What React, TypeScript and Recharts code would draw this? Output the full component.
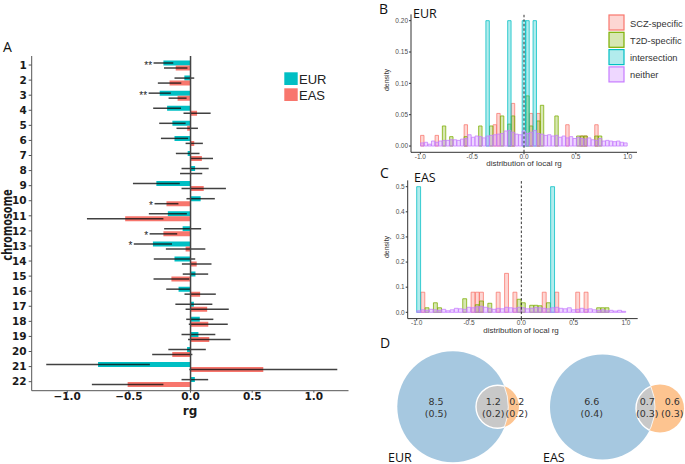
import {
  Bar,
  BarChart,
  ErrorBar,
  LabelList,
  ReferenceLine,
  Scatter,
  ScatterChart,
  XAxis,
  YAxis,
} from "recharts";

// ---- panel A: local rg per chromosome ----
const chromosomes = ["1", "2", "3", "4", "5", "6", "7", "8", "9", "10", "11", "12", "13", "14", "15", "16", "17", "18", "19", "20", "21", "22"];
const eurRg = [-0.22, -0.05, -0.25, -0.19, -0.147, -0.13, -0.023, 0.037, -0.277, 0.082, -0.184, -0.064, -0.305, -0.13, 0.04, -0.097, 0.027, 0.075, 0.064, -0.028, -0.75, 0.035];
const eurSe = [0.08, 0.08, 0.09, 0.113, 0.107, 0.11, 0.096, 0.11, 0.19, 0.115, 0.154, 0.15, 0.155, 0.168, 0.103, 0.1, 0.15, 0.11, 0.137, 0.152, 0.42, 0.108];
const easRg = [-0.12, -0.17, -0.105, 0.053, -0.027, 0.03, 0.092, 0.005, 0.107, -0.195, -0.53, -0.22, -0.04, 0.05, -0.155, 0.078, 0.135, 0.144, 0.152, -0.148, 0.59, -0.51];
const easSe = [0.095, 0.095, 0.073, 0.11, 0.087, 0.07, 0.09, 0.09, 0.18, 0.097, 0.31, 0.112, 0.16, 0.12, 0.145, 0.127, 0.175, 0.158, 0.172, 0.163, 0.6, 0.29];
const eurStars = ["**", "", "**", "", "", "", "", "", "", "", "", "", "*", "", "", "", "", "", "", "", "", ""];
const easStars = ["", "", "", "", "", "", "", "", "", "*", "", "*", "", "", "", "", "", "", "", "", "", ""];
const rgTicks = [-1, -0.5, 0, 0.5, 1];

// ---- panel B: EUR density of local rg (bins of 0.035 centred on 0) ----
const binWidthB = 0.035;
const sczB = [
  0.017, 0, 0, 0, 0.017, 0, 0, 0, 0, 0,
  0, 0, 0.034, 0, 0, 0, 0, 0, 0, 0,
  0.034, 0.052, 0, 0, 0, 0.068, 0, 0, 0, 0,
  0.052, 0, 0.052, 0, 0, 0, 0, 0, 0, 0,
  0.034, 0, 0, 0, 0.016, 0.016, 0, 0, 0.034, 0,
  0, 0, 0, 0, 0, 0, 0,
];
const t2dB = [
  0, 0, 0, 0, 0, 0, 0.032, 0, 0.015, 0,
  0, 0, 0.015, 0, 0, 0, 0.032, 0, 0, 0.032,
  0, 0, 0.048, 0, 0.035, 0.048, 0, 0, 0, 0.08,
  0.032, 0, 0.04, 0.065, 0, 0, 0, 0.048, 0, 0,
  0, 0, 0, 0.016, 0.016, 0.016, 0, 0, 0.016, 0.016,
  0, 0, 0, 0, 0, 0, 0,
];
const interB = [
  0, 0, 0, 0, 0, 0, 0, 0, 0, 0,
  0, 0, 0, 0, 0, 0, 0, 0, 0.2, 0,
  0, 0, 0, 0, 0.2, 0, 0, 0, 0.2, 0.2,
  0, 0.2, 0, 0, 0, 0, 0, 0, 0, 0,
  0, 0, 0, 0, 0, 0, 0, 0, 0, 0,
  0, 0, 0, 0, 0, 0, 0,
];
const neitherB = [
  0.005, 0.006, 0.003, 0.008, 0.006, 0.008, 0.009, 0.009, 0.01, 0.01,
  0.009, 0.011, 0.012, 0.018, 0.014, 0.016, 0.015, 0.013, 0.016, 0.017,
  0.018, 0.019, 0.02, 0.024, 0.025, 0.022, 0.019, 0.018, 0.024, 0.02,
  0.022, 0.025, 0.02, 0.019, 0.017, 0.018, 0.016, 0.017, 0.014, 0.016,
  0.013, 0.015, 0.012, 0.014, 0.012, 0.011, 0.013, 0.01, 0.009, 0.012,
  0.008, 0.009, 0.008, 0.007, 0.008, 0.006, 0.005,
];

// ---- panel C: EAS density of local rg (bins of 0.04 from -1) ----
const binWidthC = 0.04;
const sczC = [
  0, 0.08, 0, 0, 0, 0, 0, 0, 0, 0,
  0, 0, 0, 0.08, 0.08, 0.08, 0, 0, 0, 0.08,
  0, 0.155, 0, 0.08, 0, 0, 0, 0, 0, 0,
  0.08, 0, 0, 0.08, 0, 0, 0, 0, 0.08, 0,
  0.08, 0, 0, 0, 0, 0, 0, 0, 0, 0,
];
const t2dC = [
  0, 0, 0.018, 0, 0.038, 0.018, 0, 0, 0, 0,
  0, 0.054, 0, 0, 0.03, 0.045, 0, 0.036, 0, 0,
  0, 0, 0, 0, 0.052, 0.038, 0, 0.028, 0.028, 0.026,
  0, 0.038, 0, 0, 0, 0, 0, 0, 0, 0,
  0, 0, 0, 0.018, 0.018, 0.018, 0, 0, 0, 0,
];
const interC = [
  0.5, 0, 0, 0, 0, 0, 0, 0, 0, 0,
  0, 0, 0, 0, 0, 0, 0, 0, 0, 0,
  0, 0, 0, 0, 0, 0, 0, 0, 0, 0,
  0, 0, 0.5, 0, 0, 0, 0, 0, 0, 0,
  0, 0, 0, 0, 0, 0, 0, 0, 0, 0,
];
const neitherC = [
  0.006, 0.01, 0.008, 0.012, 0.01, 0.008, 0.012, 0.006, 0.01, 0.016,
  0.014, 0.012, 0.02, 0.018, 0.022, 0.024, 0.02, 0.016, 0.012, 0.016,
  0.014, 0.02, 0.018, 0.016, 0.02, 0.018, 0.014, 0.016, 0.02, 0.018,
  0.016, 0.014, 0.018, 0.02, 0.016, 0.014, 0.018, 0.01, 0.012, 0.016,
  0.012, 0.014, 0.01, 0.008, 0.01, 0.006, 0.008, 0.005, 0.008, 0.004,
];
const histNames = ["SCZ-specific", "T2D-specific", "intersection", "neither"];
const histColors = ["#F8766D", "#7CAE00", "#00BFC4", "#C77CFF"];

// ---- panel D: venn (x, y, r in px-like units of the venn box) ----
const vennBig = [
  { x: 72.8, y: 68.8, r: 55.5 },
  { x: 222.5, y: 69, r: 52.5 },
];
const vennSmall = [
  { x: 117.5, y: 68.7, r: 21.5 },
  { x: 280, y: 70.5, r: 24 },
];
const vennLabelX = [56, 113.3, 136.7, 211.7, 267.3, 292.3];
const vennLabelTop = ["8.5", "1.2", "0.2", "6.6", "0.7", "0.6"];
const vennLabelBottom = ["(0.5)", "(0.2)", "(0.2)", "(0.4)", "(0.3)", "(0.3)"];

const chrData = chromosomes.map((chr, i) => ({
  chr,
  eur: eurRg[i],
  eurSe: eurSe[i],
  eas: easRg[i],
  easSe: easSe[i],
}));

const histB = sczB.map((_, i) => ({
  x: +((i - 28) * binWidthB).toFixed(3),
  scz: sczB[i] || null,
  t2d: t2dB[i] || null,
  inter: interB[i] || null,
  neither: neitherB[i] || null,
}));

const histC = sczC.map((_, i) => ({
  x: +(-1 + binWidthC / 2 + i * binWidthC).toFixed(3),
  scz: sczC[i] || null,
  t2d: t2dC[i] || null,
  inter: interC[i] || null,
  neither: neitherC[i] || null,
}));

const vennLens = vennSmall.map((s, i) => ({ ...s, bx: vennBig[i].x, by: vennBig[i].y, br: vennBig[i].r, id: i }));
const vennLabels = vennLabelX.map((x, i) => ({ x, y: 69, top: vennLabelTop[i], bottom: vennLabelBottom[i] }));

const K = 1; // venn px per unit (305px box, 305 unit domain)

/** stars drawn just left of the error bar's lower end */
const starLabel = (stars: string[], vals: number[], errs: number[]) => (props: any) => {
  const { x, y, width, height, index } = props;
  const s = stars[index];
  if (!s) return null;
  const v = vals[index];
  const a = Number(x);
  const b = Number(x) + Number(width);
  const zero = v < 0 ? Math.max(a, b) : Math.min(a, b);
  const tip = v < 0 ? Math.min(a, b) : Math.max(a, b);
  const k = Math.abs(tip - zero) / Math.abs(v);
  const lowX = zero + (v - errs[index]) * k;
  return (
    <text x={lowX - 1.5} y={Number(y) + Number(height) / 2 + 5.5} textAnchor="end" fontSize={10} fill="#222" fontFamily="Liberation Sans">
      {s}
    </text>
  );
};

const fmtRg = (v: number) => (v < 0 ? `\u2212${Math.abs(v).toFixed(1)}` : v.toFixed(1));

function RgLegend() {
  return (
    <svg width={50} height={32} style={{ position: "absolute", left: 284, top: 72 }}>
      <rect x={0.3} y={0.3} width={13.4} height={12.7} fill="#00BFC4" />
      <rect x={0.3} y={16.3} width={13.4} height={12.7} fill="#F8766D" />
      <text x={15} y={12} fontSize={13} fill="#222" fontFamily="'Liberation Sans Narrow', 'Liberation Sans'">EUR</text>
      <text x={15} y={28} fontSize={13} fill="#222" fontFamily="'Liberation Sans Narrow', 'Liberation Sans'">EAS</text>
    </svg>
  );
}

function HistLegend() {
  return (
    <svg width={80} height={72} style={{ position: "absolute", left: 608, top: 14, overflow: "visible" }}>
      {histNames.map((n, i) => (
        <g key={n}>
          <rect x={1} y={1 + i * 17.3} width={15} height={15} fill={histColors[i]} fillOpacity={0.3} stroke={histColors[i]} strokeWidth={1.2} />
          <text x={22} y={12.5 + i * 17.3} fontSize={9.3} fill="#333" fontFamily="Liberation Sans">{n}</text>
        </g>
      ))}
    </svg>
  );
}

const smallTick = { fill: "#4d4d4d", fontSize: 6.5, fontFamily: "Liberation Sans" };

type HistProps = {
  data: any[];
  xDomain: [number, number];
  yDomain: [number, number];
  yTicks: number[];
  yDigits: number;
  barSize: number;
  margin: { top: number; right: number; bottom: number; left: number };
};

function DensityHist({ data, xDomain, yDomain, yTicks, yDigits, barSize, margin }: HistProps) {
  const keys = ["scz", "t2d", "inter", "neither"];
  return (
    <BarChart width={345} height={170} data={data} margin={margin} barGap={-barSize}>
      <XAxis
        type="number"
        dataKey="x"
        domain={xDomain}
        allowDataOverflow
        ticks={[-1, -0.5, 0, 0.5, 1]}
        tickFormatter={(v) => Number(v).toFixed(1)}
        stroke="#333"
        tickSize={2}
        tickMargin={0}
        height={12}
        tick={smallTick}
        interval={0}
      />
      <YAxis
        type="number"
        domain={yDomain}
        allowDataOverflow
        ticks={yTicks}
        tickFormatter={(v) => Number(v).toFixed(yDigits)}
        stroke="#333"
        tickSize={2}
        tickMargin={1}
        width={30}
        tick={smallTick}
        interval={0}
      />
      {keys.map((k, i) => (
        <Bar
          key={k}
          dataKey={k}
          barSize={barSize}
          fill={histColors[i]}
          fillOpacity={0.3}
          stroke={histColors[i]}
          strokeOpacity={0.85}
          strokeWidth={0.9}
          isAnimationActive={false}
        />
      ))}
      <ReferenceLine x={0} stroke="#333" strokeDasharray="2.5 2" strokeWidth={1} />
    </BarChart>
  );
}

function VennBig(p: any) {
  return <circle cx={p.cx} cy={p.cy} r={p.payload.r * K} fill="#a6c8e0" />;
}
function VennSmall(p: any) {
  return <circle cx={p.cx} cy={p.cy} r={p.payload.r * K} fill="#fdc490" />;
}
function VennLens(p: any) {
  const d = p.payload;
  const bcx = p.cx + (d.bx - d.x) * K;
  const bcy = p.cy + (d.by - d.y) * K;
  const r = d.r * K;
  const br = d.br * K;
  return (
    <g>
      <defs>
        <clipPath id={`vbig${d.id}`}>
          <circle cx={bcx} cy={bcy} r={br} />
        </clipPath>
        <clipPath id={`vsmall${d.id}`}>
          <circle cx={p.cx} cy={p.cy} r={r} />
        </clipPath>
      </defs>
      <circle cx={p.cx} cy={p.cy} r={r} fill="#c8c8c8" clipPath={`url(#vbig${d.id})`} />
      <circle cx={p.cx} cy={p.cy} r={r} fill="none" stroke="#fff" strokeWidth={1.4} clipPath={`url(#vbig${d.id})`} />
      <circle cx={bcx} cy={bcy} r={br} fill="none" stroke="#fff" strokeWidth={0.8} clipPath={`url(#vsmall${d.id})`} />
    </g>
  );
}
function VennText(p: any) {
  const d = p.payload;
  return (
    <text textAnchor="middle" fontSize={9.5} fill="#333" fontFamily="DejaVu Sans">
      <tspan x={p.cx} y={p.cy - 2.5}>{d.top}</tspan>
      <tspan x={p.cx} y={p.cy + 9.5}>{d.bottom}</tspan>
    </text>
  );
}

const boxStyle = (left: number, top: number) => ({ position: "absolute" as const, left, top });

export default function App() {
  return (
    <div style={{ position: "absolute", left: 0, top: 0, width: 685, height: 464, background: "#fff", overflow: "hidden" }}>
      {/* A */}
      <div style={boxStyle(0, 0)}>
        <BarChart
          width={360}
          height={464}
          data={chrData}
          layout="vertical"
          margin={{ top: 56, right: 11.5, bottom: 43.3, left: 9.7 }}
          barGap={0}
        >
          <XAxis
            type="number"
            domain={[-1.288, 1.281]}
            allowDataOverflow
            ticks={rgTicks}
            tickFormatter={fmtRg}
            stroke="#555"
            tickSize={2}
            tickMargin={0}
            height={30}
            interval={0}
            tick={{ fill: "#1a1a1a", fontSize: 10.5, fontWeight: 700, fontFamily: "DejaVu Sans" }}
          />
          <YAxis
            type="category"
            dataKey="chr"
            width={22}
            padding={{ top: 1.5, bottom: 1.5 }}
            stroke="#555"
            tickSize={3}
            tickMargin={2}
            interval={0}
            tick={{ fill: "#1a1a1a", fontSize: 10.5, fontWeight: 700, fontFamily: "DejaVu Sans" }}
          />
          <Bar dataKey="eur" fill="#00BFC4" barSize={5} isAnimationActive={false}>
            <ErrorBar dataKey="eurSe" direction="x" width={0} stroke="#111" strokeOpacity={0.8} strokeWidth={1.5} />
            <LabelList dataKey="eur" content={starLabel(eurStars, eurRg, eurSe)} />
          </Bar>
          <Bar dataKey="eas" fill="#F8766D" barSize={5} isAnimationActive={false}>
            <ErrorBar dataKey="easSe" direction="x" width={0} stroke="#111" strokeOpacity={0.8} strokeWidth={1.5} />
            <LabelList dataKey="eas" content={starLabel(easStars, easRg, easSe)} />
          </Bar>
          <ReferenceLine x={0} stroke="#444" strokeWidth={1.5} />
        </BarChart>
      </div>
      <RgLegend />

      {/* B */}
      <div style={boxStyle(340, 0)}>
        <DensityHist
          data={histB}
          xDomain={[-1.09, 1.09]}
          yDomain={[-0.01, 0.21]}
          yTicks={[0, 0.05, 0.1, 0.15, 0.2]}
          yDigits={2}
          barSize={3.4}
          margin={{ top: 14.4, right: 48, bottom: 5.7, left: 41 }}
        />
      </div>
      <HistLegend />

      {/* C */}
      <div style={boxStyle(340, 165)}>
        <DensityHist
          data={histC}
          xDomain={[-1.086, 1.112]}
          yDomain={[-0.025, 0.525]}
          yTicks={[0, 0.1, 0.2, 0.3, 0.4, 0.5]}
          yDigits={1}
          barSize={3.9}
          margin={{ top: 15.4, right: 47.3, bottom: 4.4, left: 37.7 }}
        />
      </div>

      {/* D */}
      <div style={boxStyle(380, 338)}>
        <ScatterChart width={305} height={126} margin={{ top: 0, right: 0, bottom: 0, left: 0 }}>
          <XAxis type="number" dataKey="x" domain={[0, 305]} hide />
          <YAxis type="number" dataKey="y" domain={[0, 126]} hide reversed />
          <Scatter data={vennBig} shape={VennBig} isAnimationActive={false} />
          <Scatter data={vennSmall} shape={VennSmall} isAnimationActive={false} />
          <Scatter data={vennLens} shape={VennLens} isAnimationActive={false} />
          <Scatter data={vennLabels} shape={VennText} isAnimationActive={false} />
        </ScatterChart>
      </div>

      {/* free text */}
      <svg width={685} height={464} style={{ position: "absolute", left: 0, top: 0, pointerEvents: "none" }}>
        <g fontFamily="'Open Sans'" fill="#111">
          <text x={3} y={52} fontSize={14}>A</text>
          <text x={379} y={14} fontSize={14}>B</text>
          <text x={380} y={178} fontSize={14}>C</text>
          <text x={380} y={348} fontSize={14}>D</text>
          <text x={413} y={17.5} fontSize={12.5}>EUR</text>
          <text x={414} y={181.5} fontSize={12.5}>EAS</text>
          <text x={388} y={461.5} fontSize={12.5}>EUR</text>
          <text x={543} y={461.5} fontSize={12.5}>EAS</text>
        </g>
        <text
          transform="translate(12,225) rotate(-90) scale(0.9,1.3)"
          textAnchor="middle"
          fontSize={11}
          fontWeight={700}
          fontFamily="DejaVu Sans"
          fill="#1a1a1a"
        >
          chromosome
        </text>
        <text x={190} y={415} textAnchor="middle" fontSize={12} fontWeight={700} fontFamily="DejaVu Sans" fill="#1a1a1a">
          rg
        </text>
        <g fontFamily="Liberation Sans" fill="#333">
          <text transform="translate(389,80) rotate(-90)" textAnchor="middle" fontSize={7}>density</text>
          <text transform="translate(389,247) rotate(-90)" textAnchor="middle" fontSize={7}>density</text>
          <text x={524} y={166} textAnchor="middle" fontSize={8}>distribution of local rg</text>
          <text x={521} y={332.5} textAnchor="middle" fontSize={8}>distribution of local rg</text>
        </g>
      </svg>
    </div>
  );
}
